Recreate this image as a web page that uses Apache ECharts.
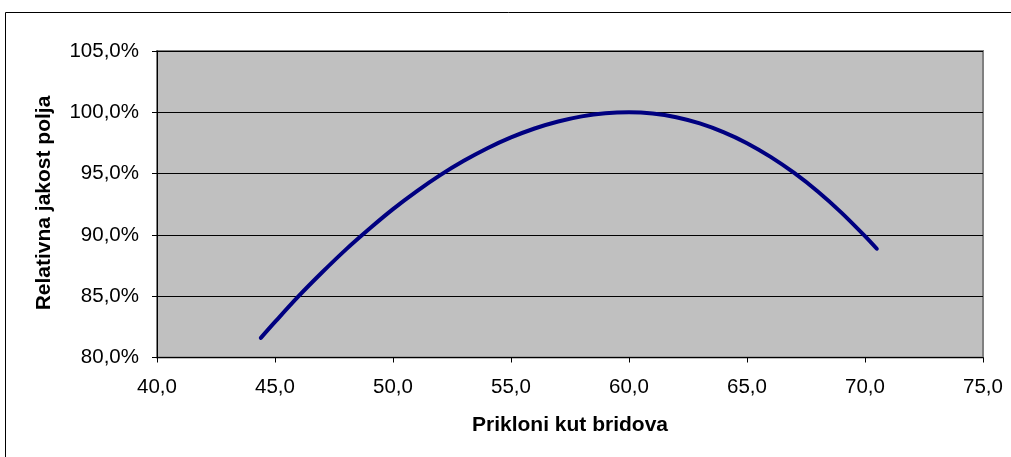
<!DOCTYPE html>
<html>
<head>
<meta charset="utf-8">
<script src="https://cdn.jsdelivr.net/npm/echarts@6/dist/echarts.min.js"></script>
<style>
html,body{margin:0;padding:0;background:#fff;}
#c{width:1011px;height:457px;}
</style>
</head>
<body>
<div id="c"></div>
<script>
var angles = [44.4, 45, 46, 47, 48, 49, 50, 51, 52, 53, 54, 55, 56, 57, 58, 59, 60, 61, 62, 63, 64, 65, 66, 67, 68, 69, 70, 70.5];
var strength = [81.6, 82.9, 85.0, 86.95, 88.8, 90.5, 92.1, 93.55, 94.87, 96.04, 97.07, 97.95, 98.68, 99.25, 99.67, 99.92, 100, 99.9, 99.6, 99.09, 98.38, 97.48, 96.36, 95.05, 93.54, 91.82, 89.9, 88.87];
var xTitle = 'Prikloni kut bridova';
var yTitle = 'Relativna jakost polja';

var data = angles.map(function(a, i){ return [a, strength[i]]; });
function comma(v, d){ return v.toFixed(d).replace('.', ','); }

var chart = echarts.init(document.getElementById('c'), null, {renderer:'canvas'});
chart.setOption({
  animation: false,
  backgroundColor: '#ffffff',
  textStyle: {fontFamily: 'Liberation Sans, Arial, sans-serif'},
  grid: {left: 157, right: 28, top: 51, bottom: 99.5, show: true, backgroundColor: '#c0c0c0', borderColor: '#808080', borderWidth: 2},
  xAxis: {
    type: 'value', min: 40, max: 75, interval: 5,
    axisLine: {show: true, onZero: false, lineStyle: {color: '#000', width: 1}},
    axisTick: {show: true, inside: false, length: 5, lineStyle: {color: '#000'}},
    axisLabel: {color: '#000', fontSize: 20.5, margin: 19, formatter: function(v){ return comma(v, 1); }},
    splitLine: {show: false}
  },
  yAxis: {
    type: 'value', min: 80, max: 105, interval: 5,
    axisLine: {show: true, onZero: false, lineStyle: {color: '#000', width: 1}},
    axisTick: {show: true, inside: false, length: 5, lineStyle: {color: '#000'}},
    axisLabel: {color: '#000', fontSize: 20.5, margin: 18, formatter: function(v){ return comma(v, 1) + '%'; }},
    splitLine: {show: true, lineStyle: {color: '#000', width: 1}}
  },
  graphic: [
    {type: 'rect', shape: {x: 5.5, y: 12.5, width: 1020, height: 460}, style: {fill: 'none', stroke: '#000', lineWidth: 1}, z: -1, silent: true},
    {type: 'text', x: 570, y: 425, style: {text: xTitle, font: 'bold 21px Liberation Sans, Arial, sans-serif', fill: '#000', align: 'center', verticalAlign: 'middle'}},
    {type: 'text', x: 44, y: 203, rotation: Math.PI / 2, style: {text: yTitle, font: 'bold 21px Liberation Sans, Arial, sans-serif', fill: '#000', align: 'center', verticalAlign: 'middle'}}
  ],
  series: [{
    type: 'line', data: data, smooth: 0.3, showSymbol: false,
    lineStyle: {color: '#000080', width: 4, cap: 'round'},
    itemStyle: {color: '#000080'}
  }]
});
</script>
</body>
</html>
